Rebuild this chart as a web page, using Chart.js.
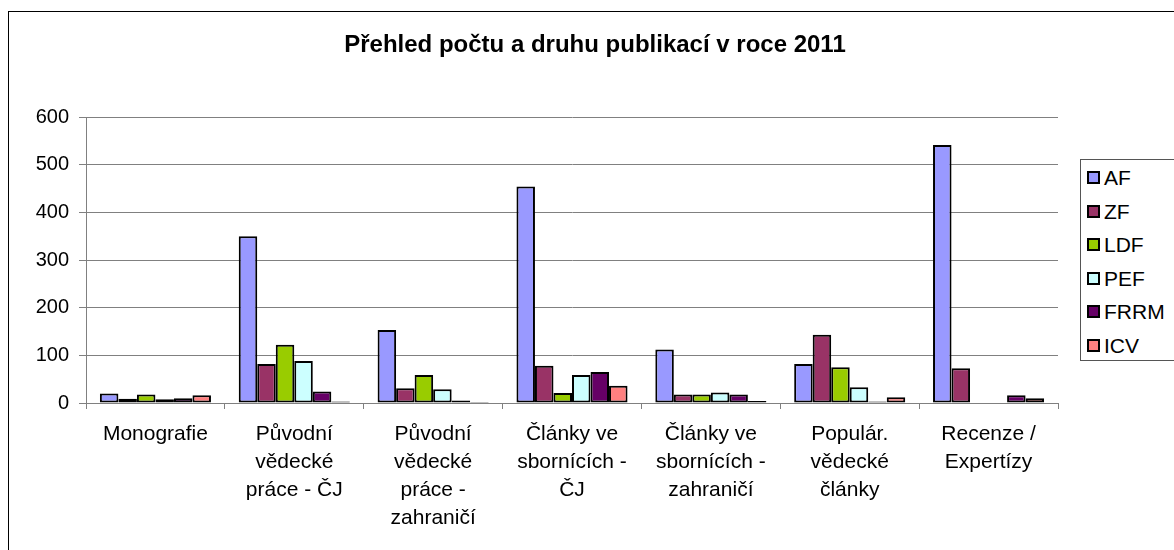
<!DOCTYPE html>
<html>
<head>
<meta charset="utf-8">
<script src="https://cdn.jsdelivr.net/npm/chart.js@4.4.1/dist/chart.umd.min.js"></script>
<style>
  html, body { margin: 0; padding: 0; background: #fff; overflow: hidden; }
  #frame { position: absolute; left: 8px; top: 11px; width: 1300px; height: 700px; border: 1.5px solid #000; box-sizing: border-box; }
  #wrap { position: absolute; left: 0; top: 0; width: 1174px; height: 550px; }
  #title { position: absolute; left: 0; top: 30px; width: 1190px; text-align: center;
           font: bold 24px "Liberation Sans", Arial, sans-serif; color: #000; line-height: 28px; }
  #legend { position: absolute; left: 1080px; top: 159px; width: 140px; height: 202px;
            border: 1px solid #555; box-sizing: border-box; background: #fff;
            font: 21px "Liberation Sans", Arial, sans-serif; color: #000; }
  .item { position: absolute; left: 6px; height: 24px; line-height: 24px; white-space: nowrap; }
  .sw { display: inline-block; width: 9px; height: 9px; border: 2px solid #000; vertical-align: middle; margin-right: 4px; position: relative; top: -2px; }
</style>
</head>
<body>
<div id="frame"></div>
<div id="wrap"><canvas id="c" width="1174" height="550"></canvas></div>
<div id="title">Přehled počtu a druhu publikací v roce 2011</div>
<div id="legend"></div>
<script>
const categories = [
  "Monografie",
  ["Původní", "vědecké", "práce - ČJ"],
  ["Původní", "vědecké", "práce -", "zahraničí"],
  ["Články ve", "sbornících -", "ČJ"],
  ["Články ve", "sbornících -", "zahraničí"],
  ["Populár.", "vědecké", "články"],
  ["Recenze /", "Expertízy"]
];
const seriesNames = ["AF", "ZF", "LDF", "PEF", "FRRM", "ICV"];
const AF   = [20, 350, 153, 454, 112, 82, 541];
const ZF   = [9, 82, 31, 78, 18, 143, 73];
const LDF  = [18, 122, 59, 21, 18, 75, 0];
const PEF  = [8, 88, 29, 59, 22, 33, 0];
const FRRM = [10, 24, 5, 65, 18, 3, 16];
const ICV  = [16, 3, 2, 36, 4, 12, 10];
const yTicks = [0, 100, 200, 300, 400, 500, 600];
const colors = ["#9999FF", "#993366", "#99CC00", "#CCFFFF", "#660066", "#FF8080"];

const seriesValues = [AF, ZF, LDF, PEF, FRRM, ICV];
const datasets = seriesNames.map((n, i) => ({
  label: n,
  data: seriesValues[i],
  backgroundColor: colors[i],
  borderColor: "#000",
  borderWidth: 2,
  borderSkipped: false,
  barPercentage: 1.0,
  categoryPercentage: 0.8
}));

const FONT = '"Liberation Sans", Arial, sans-serif';

new Chart(document.getElementById("c"), {
  type: "bar",
  data: { labels: categories, datasets },
  options: {
    responsive: false,
    animation: false,
    devicePixelRatio: 1,
    layout: { padding: { left: 30, right: 116, top: 117, bottom: 10 } },
    plugins: { legend: { display: false }, title: { display: false }, tooltip: { enabled: false } },
    scales: {
      x: {
        offset: true,
        grid: { display: true, drawOnChartArea: false, drawTicks: true, tickLength: 6, color: "#808080", offset: true },
        border: { display: true, color: "#808080", width: 1 },
        ticks: { color: "#000", font: { family: FONT, size: 21, lineHeight: 1.333 }, padding: 11, maxRotation: 0, autoSkip: false },
        afterFit: s => { s.height = 137; }
      },
      y: {
        min: 0, max: 600,
        afterBuildTicks: s => { s.ticks = yTicks.map(v => ({ value: v })); },
        grid: { color: "#808080", lineWidth: 1, drawTicks: true, tickLength: 7 },
        border: { display: true, color: "#808080", width: 1 },
        ticks: { color: "#000", font: { family: FONT, size: 20 }, padding: 10 },
        afterFit: s => { s.width = 56; }
      }
    }
  }
});

const lg = document.getElementById("legend");
const centers = [176.7, 210.7, 244, 277.7, 311.3, 345];
seriesNames.forEach((n, i) => {
  const d = document.createElement("div");
  d.className = "item";
  d.style.top = (centers[i] - 159 - 12) + "px";
  d.innerHTML = '<span class="sw" style="background:' + colors[i] + '"></span>' + n;
  lg.appendChild(d);
});
</script>
</body>
</html>
